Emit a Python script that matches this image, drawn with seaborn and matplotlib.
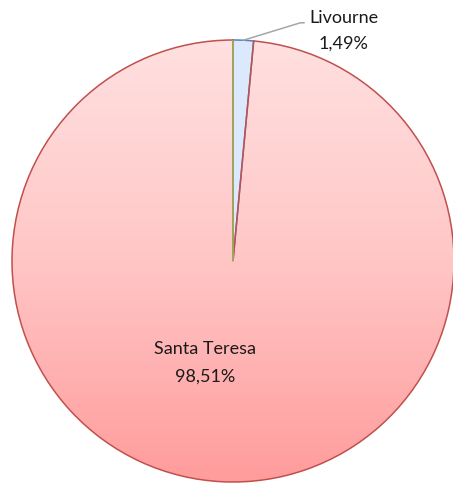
import numpy as np
import matplotlib.pyplot as plt
import seaborn as sns
from matplotlib.colors import LinearSegmentedColormap

# share of each site (clockwise from 12 o'clock)
sites = ['Livourne', 'Santa Teresa']
shares = [1.49, 98.51]
edge_cols = ['#4F81BD', '#C0504D']

sns.set_theme(style='white')
plt.rcParams['font.family'] = ['Lato', 'DejaVu Sans']

fig = plt.figure(figsize=(4.53, 4.86), dpi=100)
# pie centre ~ (233, 261) px, radius ~221 px
r_px = 221
ax = fig.add_axes([(233 - r_px) / 453, (486 - 261 - r_px) / 486,
                   2 * r_px / 453, 2 * r_px / 486])

wedges, _ = ax.pie(shares, startangle=90, counterclock=False,
                   colors=['#DCE8FB', '#FFC8C8'], radius=1,
                   wedgeprops=dict(linewidth=1.1), frame=False)
ax.set_xlim(-1, 1)
ax.set_ylim(-1, 1)
ax.axis('off')
for w, ec in zip(wedges, edge_cols):
    w.set_edgecolor(ec)

# vertical gradient fill for the big slice
grad = LinearSegmentedColormap.from_list('pinkgrad', ['#FF9C9C', '#FFC6C6', '#FFE0E0'])
img = ax.imshow(np.linspace(0, 1, 256).reshape(-1, 1), cmap=grad, origin='lower',
                extent=[-1, 1, -1, 1], aspect='auto', zorder=0.5)
img.set_clip_path(wedges[1])
wedges[1].set_facecolor('none')
wedges[0].set_zorder(1.5)
wedges[1].set_zorder(2)

# olive line along the slice boundary at the top
ax.plot([0, 0], [0, 1], color='#9BBB59', lw=1.1, zorder=2.5)

# labels
big_txt = f'{sites[1]}\n{shares[1]:.2f}%'.replace('.', ',')
ax.text(-0.127, -0.46, big_txt, ha='center', va='center', fontsize=13,
        color='#1a1a1a', linespacing=1.85)

small_txt = f'{sites[0]}\n{shares[0]:.2f}%'.replace('.', ',')
mid = np.deg2rad(90 - 180 * shares[0] / 100)
ax.annotate(small_txt, xy=(np.cos(mid), np.sin(mid)), xytext=(0.5, 1.04),
            ha='center', va='center', fontsize=13, color='#1a1a1a', linespacing=1.75,
            annotation_clip=False,
            arrowprops=dict(arrowstyle='-', color='#A6A6A6', lw=1.1,
                            connectionstyle='angle,angleA=0,angleB=17,rad=0',
                            relpos=(0, 0.7), shrinkA=1, shrinkB=0))

fig.savefig('out.png', dpi=100)
